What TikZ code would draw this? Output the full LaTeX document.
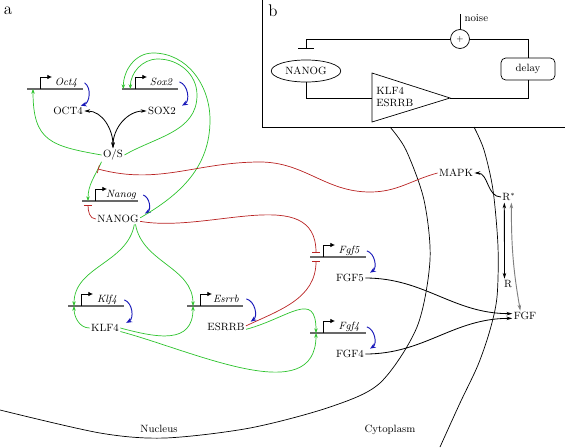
\documentclass[tikz,border=0pt]{standalone}
\usetikzlibrary{arrows.meta,shapes.geometric,positioning}
\definecolor{actgreen}{RGB}{45,195,45}
\definecolor{repred}{RGB}{185,35,35}
\definecolor{trblue}{RGB}{25,25,185}
\definecolor{genegray}{RGB}{105,105,105}

% gene symbol: #1 name, #2 left end, #3 height of the line, #4 label
\newcommand{\gene}[4]{%
  \draw[geneline] (#2,#3) -- ++(56,0);
  \draw[promoter] (#2+13,#3) -- ++(0,-12) -- ++(12,0);
  \node[genelabel] (#1) at (#2+39,#3-3.5) {#4};
  \coordinate (#1-in) at (#2+6,#3);
}

\begin{document}
\begin{tikzpicture}[x=0.03cm,y=-0.03cm,font=\small,line width=0.6pt,
    geneline/.style={genegray,line width=1.3pt},
    promoter/.style={line width=0.7pt,-{Latex[length=4pt,width=4pt]}},
    genelabel/.style={anchor=base,font=\small\itshape,inner sep=1pt},
    prot/.style={inner sep=1pt},
    transl/.style={trblue,line width=0.8pt,-{Stealth[length=5pt,width=4pt]}},
    act/.style={actgreen,-{Stealth[length=4pt,width=3pt]}},
    rep/.style={repred,-{Bar[width=7pt]}},
    sig/.style={line width=0.7pt,-{Stealth[length=5pt,width=3pt]}}]
  \useasboundingbox (0,0) rectangle (565,447);

  % panel b
  \draw (262,0) -- (262,127) -- (565,127);
  \node[font=\Large] (la) at (8,11) {a};
  \node[font=\Large] (lb) at (273,11) {b};
  \node[circle,draw,inner sep=0pt,minimum size=0.57cm,font=\scriptsize] (plus) at (460,39) {$+$};
  \coordinate (noisetop) at (460,14);
  \node[anchor=west,inner sep=1pt] (noise) at (463,18) {noise};
  \node[ellipse,draw,minimum width=1.95cm,minimum height=0.66cm] (bnanog) at (306,71) {NANOG};
  \node[draw,rounded corners=4pt,minimum width=1.62cm,minimum height=0.66cm] (delay) at (528,69) {delay};
  \coordinate (ampin) at (372,98);
  \coordinate (ampout) at (450,98);
  \draw (372,73) -- (ampout) -- (372,122) -- cycle;
  \node[anchor=west,align=left,inner sep=0pt] (amp) at (376,97) {KLF4\\ESRRB};
  \draw (plus) -- (noisetop);
  \draw[-{Bar[width=13pt]}] (plus.west) -| ([yshift=9pt]bnanog.north);
  \draw (plus.east) -| (delay.north);
  \draw (bnanog.south) |- (ampin);
  \draw (ampout) -| (delay.south);

  % compartments
  \draw plot[smooth] coordinates {(0,410) (100,433) (165,438) (250,428) (330,407) (380,383) (417,327) (430,260) (424,200) (406,150) (390,127)};
  \draw plot[smooth] coordinates {(474,127) (484,150) (493,190) (498,247) (497,297) (490,330) (478,365) (460,403) (440,447)};
  \node (nucleus) at (159,429) {Nucleus};
  \node (cyto) at (390,430) {Cytoplasm};

  % genes
  \gene{goct4}{27}{89}{Oct4}
  \gene{gsox2}{122}{89}{Sox2}
  \gene{gnanog}{82}{201}{Nanog}
  \gene{gklf4}{68}{306}{Klf4}
  \gene{gesrrb}{187}{306}{Esrrb}
  \gene{gfgf5}{310}{257}{Fgf5}
  \gene{gfgf4}{310}{333}{Fgf4}

  % proteins
  \node[prot] (OCT4) at (68,111) {OCT4};
  \node[prot] (SOX2) at (162,111) {SOX2};
  \node[prot] (OS) at (113,155) {O/S};
  \node[prot] (NANOG) at (118,219) {NANOG};
  \node[prot] (KLF4) at (105,328) {KLF4};
  \node[prot] (ESRRB) at (226,327) {ESRRB};
  \node[prot] (FGF5) at (350,278) {FGF5};
  \node[prot] (FGF4) at (350,354) {FGF4};
  \node[prot] (MAPK) at (456,173) {MAPK};
  \node[prot] (Rs) at (509,197) {R$^*$};
  \node[prot] (R) at (508,284) {R};
  \node[prot] (FGF) at (525,316) {FGF};
  \coordinate (osinh) at (98,169);

  % translation
  \foreach \g/\p/\s in {goct4/OCT4/-3pt,gsox2/SOX2/4pt,gnanog/NANOG/4pt,gklf4/KLF4/5pt,
      gesrrb/ESRRB/4pt,gfgf5/FGF5/4pt,gfgf4/FGF4/4pt}
    \draw[transl] ([xshift=5pt]\g.east) to[bend left=65] ([xshift=\s]\p.north east);

  % complex
  \draw[sig,{Stealth[length=5pt,width=3pt]}-{Stealth[length=5pt,width=3pt]}] (OCT4.east) to[out=0,in=90] (OS.north);
  \draw[sig,{Stealth[length=5pt,width=3pt]}-{Stealth[length=5pt,width=3pt]}] (SOX2.west) to[out=180,in=90] (OS.north);

  % activation
  \draw[act] (OS.west) to[out=170,in=-90,looseness=1.4] (goct4-in);
  \draw[act] (OS.east) to[out=30,in=-90] (197,95) to[out=90,in=0] (158,59) to[out=180,in=90] ([xshift=2pt]gsox2-in);
  \draw[act] ([yshift=1pt]NANOG.east) to[out=30,in=-90] (210,120) to[out=90,in=0] (153,53) to[out=180,in=90] ([xshift=-4pt]gsox2-in);
  \draw[act] (OS.south west) to[out=-115,in=90] (gnanog-in);
  \draw[act] ([xshift=-5pt]NANOG.south east) to[out=-100,in=90] (gklf4-in);
  \draw[act] ([xshift=-4pt]NANOG.south east) to[out=-80,in=90] (gesrrb-in);
  \draw[act] (KLF4.west) to[out=180,in=-90] (gklf4-in);
  \draw[act] (KLF4.east) to[out=-15,in=-90,looseness=1.3] (gesrrb-in);
  \draw[act] ([yshift=-3pt]KLF4.east) to[out=-15,in=-90] (gfgf4-in);
  \draw[act] ([yshift=-2pt]ESRRB.east) to[out=15,in=90,looseness=1.6] (gfgf4-in);

  % repression
  \draw[rep] (NANOG.west) to[out=180,in=-90] ([yshift=-3pt]gnanog-in);
  \draw[rep] ([yshift=-2pt]NANOG.east) to[out=-10,in=90] ([yshift=3.5pt]gfgf5-in);
  \draw[rep] ([yshift=1pt]ESRRB.east) to[out=25,in=-90] ([yshift=-3.5pt]gfgf5-in);
  \draw[rep] (MAPK.west) to[out=195,in=0] (370,192) to[out=180,in=0] (260,162) to[out=180,in=-15] (osinh);

  % signalling
  \draw[sig] (Rs.west) to[out=180,in=0] (MAPK.east);
  \draw[sig,{Stealth[length=5pt,width=3pt]}-{Stealth[length=5pt,width=3pt]}] ([xshift=-4pt]Rs.south) -- ([xshift=-3pt]R.north);
  \draw[sig,gray,line width=0.8pt,{Stealth[length=5pt,width=3pt]}-{Stealth[length=5pt,width=3pt]}] ([xshift=2pt]Rs.south) to[out=-90,in=100] ([xshift=-4pt]FGF.north);
  \draw[sig] (FGF5.east) to[out=0,in=180] ([yshift=2pt]FGF.west);
  \draw[sig] (FGF4.east) to[out=0,in=180] ([yshift=-2pt]FGF.west);
\end{tikzpicture}
\end{document}
